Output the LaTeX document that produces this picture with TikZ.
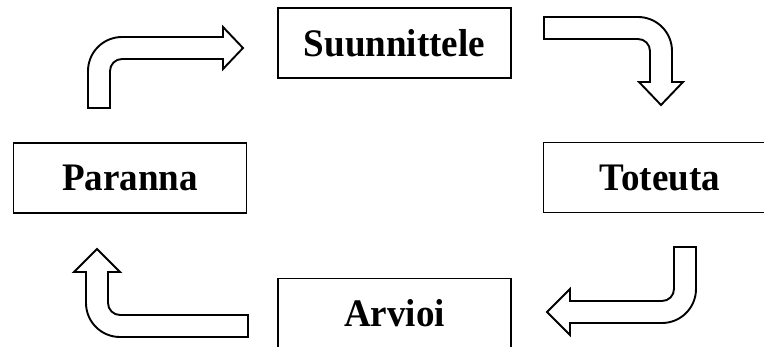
\documentclass[tikz,border=0pt]{standalone}
\usepackage{fontspec}
\setmainfont{Liberation Serif}
\begin{document}
\begin{tikzpicture}[x=1pt,y=-1pt,
  stagebox/.style={draw=black,line width=1.9pt,minimum width=233pt,minimum height=70pt,
    inner sep=0pt,font=\fontsize{39}{46}\selectfont\bfseries\addfontfeature{FakeStretch=0.95}},
  bentarrow/.style={draw=black,fill=white,line width=1.9pt,line join=miter}]
\useasboundingbox (0,0) rectangle (764,346);

% the four stages of the cycle
\node[stagebox] (plan)    at (394.5,43)  {Suunnittele};
\node[stagebox] (do)      at (660,177.5) {Toteuta};
\node[stagebox] (check)   at (394.5,313.5) {Arvioi};
\node[stagebox] (improve) at (130,178)   {Paranna};

% bent block arrows between the stages
% Paranna -> Suunnittele
\draw[bentarrow] (88,108) -- (88,71) arc(180:270:34) -- (223,37) -- (223,27)
  -- (243,48) -- (223,69) -- (223,59) -- (122,59) arc(270:180:12) -- (110,108) -- cycle;
% Suunnittele -> Toteuta
\draw[bentarrow] (544,17) -- (638,17) arc(270:360:34) -- (672,82) -- (683,82)
  -- (661,105) -- (639,82) -- (650,82) -- (650,51) arc(0:-90:12) -- (544,39) -- cycle;
% Toteuta -> Arvioi
\draw[bentarrow] (674,247) -- (696,247) -- (696,289) arc(0:90:34) -- (570,323) -- (570,335)
  -- (547,312) -- (570,289) -- (570,301) -- (662,301) arc(90:0:12) -- cycle;
% Arvioi -> Paranna
\draw[bentarrow] (248,315) -- (120,315) arc(90:180:12) -- (108,272) -- (120,272)
  -- (97,249) -- (74,272) -- (86,272) -- (86,303) arc(180:90:34) -- (248,337) -- cycle;
\end{tikzpicture}
\end{document}
